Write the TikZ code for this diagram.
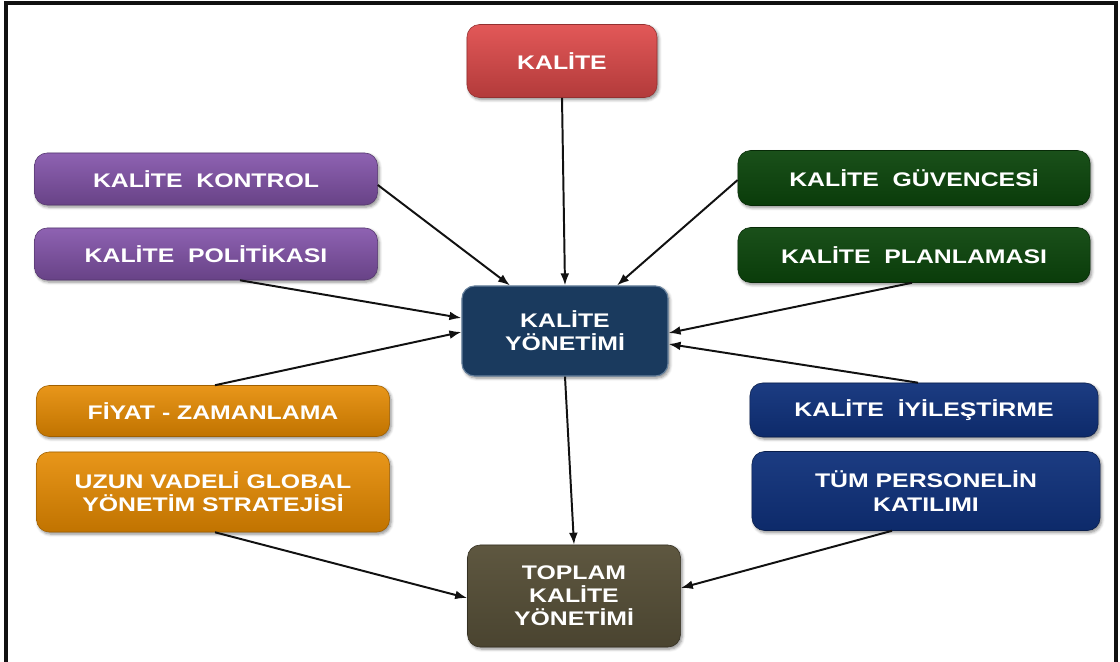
\documentclass[tikz,border=0pt]{standalone}
\usepackage{fontspec}
\setmainfont{Liberation Sans}
\newfontfamily\cardfont{Liberation Sans}[FakeStretch=1.26]
\usepackage{tikz}
\usetikzlibrary{arrows.meta, calc, shadows.blur}
\definecolor{kred}{HTML}{D24545}
\definecolor{kredlight}{HTML}{E25858}
\definecolor{kpurple}{HTML}{7A4E9E}
\definecolor{kpurplelight}{HTML}{8E62B2}
\definecolor{kgreen}{HTML}{0A3C0A}
\definecolor{kgreenlight}{HTML}{1A501A}
\definecolor{knavy}{HTML}{1A3A5E}
\definecolor{knavylight}{HTML}{244A72}
\definecolor{korange}{HTML}{D68000}
\definecolor{korangelight}{HTML}{E8961A}
\definecolor{kblue}{HTML}{0D2A6A}
\definecolor{kbluelight}{HTML}{1C3C82}
\definecolor{kolive}{HTML}{4A4430}
\definecolor{kolivelight}{HTML}{5E5740}
\definecolor{ink}{HTML}{111111}
\tikzset{
  card/.style    = {rectangle, rounded corners=9pt, align=center,
                    font=\cardfont\bfseries\fontsize{14}{16.5}\selectfont, text=white,
                    blur shadow={shadow xshift=1.2pt, shadow yshift=-1.5pt,
                    shadow blur steps=5, shadow opacity=45}},
  redcard/.style = {card, top color=kredlight, bottom color=kred!85!black,
                    draw=kred!70!black, minimum width=4.75cm, minimum height=1.825cm},
  purcard/.style = {card, top color=kpurplelight, bottom color=kpurple!85!black,
                    draw=kpurple!70!black, minimum width=8.575cm, minimum height=1.3cm},
  grncard/.style = {card, top color=kgreenlight, bottom color=kgreen,
                    draw=kgreen!70!black, minimum width=8.8cm, minimum height=1.375cm},
  navcard/.style = {card, fill=knavy, draw=knavylight!70!white, thick},
  orgcard/.style = {card, top color=korangelight, bottom color=korange!90!black,
                    draw=korange!75!black, minimum width=8.825cm},
  blucard/.style = {card, top color=kbluelight, bottom color=kblue,
                    draw=kblue!70!black, minimum width=8.7cm},
  olvcard/.style = {card, top color=kolivelight, bottom color=kolive,
                    draw=kolive!70!black, minimum width=5.325cm, minimum height=2.55cm},
  ar/.style      = {-{Latex[length=3mm,width=2.2mm]}, line width=1.4pt, draw=ink},
}

\begin{document}
\begin{tikzpicture}[x=0.025cm, y=-0.025cm]
  \useasboundingbox (0,0) rectangle (1120,662);
  % open frame
  \draw[line width=2.2pt, draw=ink] (6,670) -- (6,3) -- (1116,3) -- (1116,670);

  % centre and sink
  \node[navcard, minimum width=5.15cm, minimum height=2.25cm] (ky) at (565,331) {KAL\.ITE\\Y\"ONET\.IM\.I};
  \node[olvcard] (tky) at (574,596) {TOPLAM\\KAL\.ITE\\Y\"ONET\.IM\.I};

  % feeders
  \node[redcard] (kal) at (562,61) {KAL\.ITE};
  \node[purcard] (kon) at (206,179) {KAL\.ITE\ \ KONTROL};
  \node[purcard] (pol) at (206,254) {KAL\.ITE\ \ POL\.IT\.IKASI};
  \node[grncard] (guv) at (914,178) {KAL\.ITE\ \ G\"UVENCES\.I};
  \node[grncard] (pln) at (914,255) {KAL\.ITE\ \ PLANLAMASI};
  \node[orgcard, minimum height=1.275cm] (fiy) at (213,411) {F\.IYAT - ZAMANLAMA};
  \node[orgcard, minimum height=2cm] (uzn) at (213,492) {UZUN VADEL\.I GLOBAL\\Y\"ONET\.IM STRATEJ\.IS\.I};
  \node[blucard, minimum height=1.35cm] (iyi) at (924,410) {KAL\.ITE\ \ \.IY\.ILE\c{S}T\.IRME};
  \node[blucard, minimum height=1.975cm] (tum) at (926,491) {T\"UM PERSONEL\.IN\\KATILIMI};

  % connectors into KALITE YONETIMI
  \draw[ar] (kal.south) -- (ky.north);
  \draw[ar] ($(kon.east)+(0,6)$) -- ($(ky.north)+(-55,0)$);
  \draw[ar] ($(pol.south)+(34,0)$) -- ($(ky.west)+(0,-13)$);
  \draw[ar] ($(guv.west)+(0,2)$) -- ($(ky.north)+(52,0)$);
  \draw[ar] ($(pln.south)+(-2,0)$) -- ($(ky.east)+(0,2)$);
  \draw[ar] ($(fiy.north)+(2,0)$) -- ($(ky.west)+(0,1)$);
  \draw[ar] ($(iyi.north)+(-6,0)$) -- ($(ky.east)+(0,13)$);

  % connectors into TOPLAM KALITE YONETIMI
  \draw[ar] (ky.south) -- (tky.north);
  \draw[ar] ($(uzn.south)+(2,0)$) -- ($(tky.west)+(0,2)$);
  \draw[ar] ($(tum.south)+(-34,0)$) -- ($(tky.east)+(0,-8)$);
\end{tikzpicture}
\end{document}
